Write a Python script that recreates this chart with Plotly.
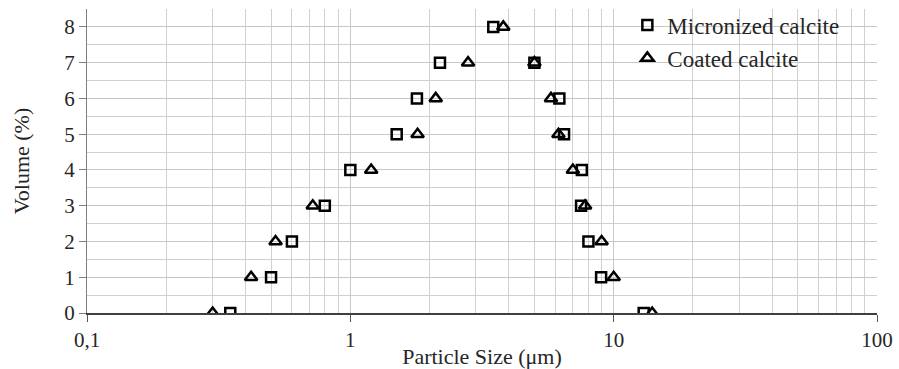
import plotly.graph_objects as go

# Micronized calcite (squares)
micro_size = [0.35, 0.50, 0.60, 0.80, 1.00, 1.50, 1.79, 2.19, 3.49, 5.00, 6.22, 6.48, 7.57, 7.52, 8.02, 8.96, 13.0]
micro_vol = [0, 1, 2, 3, 4, 5, 6, 7, 8, 7, 6, 5, 4, 3, 2, 1, 0]

# Coated calcite (triangles)
coated_size = [0.30, 0.42, 0.52, 0.72, 1.20, 1.80, 2.11, 2.80, 3.81, 5.00, 5.78, 6.17, 7.00, 7.79, 9.00, 10.0, 14.0]
coated_vol = [0, 1, 2, 3, 4, 5, 6, 7, 8, 7, 6, 5, 4, 3, 2, 1, 0]

x_tickvals = [0.1, 1, 10, 100]
x_ticktext = ["0,1", "1", "10", "100"]
x_minor = [m * d for d in (0.1, 1, 10) for m in range(2, 10)]

FONT = "Liberation Serif, Times New Roman, serif"
TXT = "#262626"

fig = go.Figure()
fig.add_trace(go.Scatter(
    x=micro_size, y=micro_vol, mode="markers", name="Micronized calcite",
    marker=dict(symbol="square-open", size=10, color="black", line=dict(width=2.5, color="black")),
))
fig.add_trace(go.Scatter(
    x=coated_size, y=coated_vol, mode="markers", name="Coated calcite",
    marker=dict(symbol="triangle-up-open", size=11, color="black", line=dict(width=2.5, color="black")),
))

fig.update_layout(
    width=899, height=369,
    margin=dict(l=87, r=22, t=9, b=56, autoexpand=False),
    paper_bgcolor="white", plot_bgcolor="white",
    font=dict(family=FONT, size=21, color=TXT),
    showlegend=True,
    legend=dict(x=0.684, y=1.018, xanchor="left", yanchor="top",
                bgcolor="rgba(0,0,0,0)", font=dict(family=FONT, size=23, color=TXT),
                itemsizing="trace", tracegroupgap=0, itemwidth=30),
    xaxis=dict(
        type="log", range=[-1, 2], automargin=False,
        tickvals=x_tickvals, ticktext=x_ticktext,
        ticks="outside", ticklen=7, tickcolor="#595959", tickwidth=1,
        tickfont=dict(family=FONT, size=21, color=TXT),
        showline=True, linecolor="#404040", linewidth=1.5,
        showgrid=True, gridcolor="#c8c8c8", gridwidth=1,
        minor=dict(tickvals=x_minor, showgrid=True, gridcolor="#d0d0d0", gridwidth=1, ticks=""),
        title=dict(text="Particle Size (μm)", font=dict(family=FONT, size=22, color=TXT), standoff=2),
        zeroline=False, mirror=False,
    ),
    yaxis=dict(
        range=[0, 8.5], dtick=1, tick0=0, automargin=False,
        ticks="outside", ticklen=7, tickcolor="#808080", tickwidth=1,
        tickfont=dict(family=FONT, size=21, color=TXT),
        showline=True, linecolor="#808080", linewidth=1,
        showgrid=True, gridcolor="#c8c8c8", gridwidth=1,
        minor=dict(dtick=0.5, showgrid=True, gridcolor="#d0d0d0", gridwidth=1, ticks=""),
        title=dict(text="Volume (%)", font=dict(family=FONT, size=22, color=TXT), standoff=28),
        zeroline=False,
    ),
)

fig.write_html("out.html")
